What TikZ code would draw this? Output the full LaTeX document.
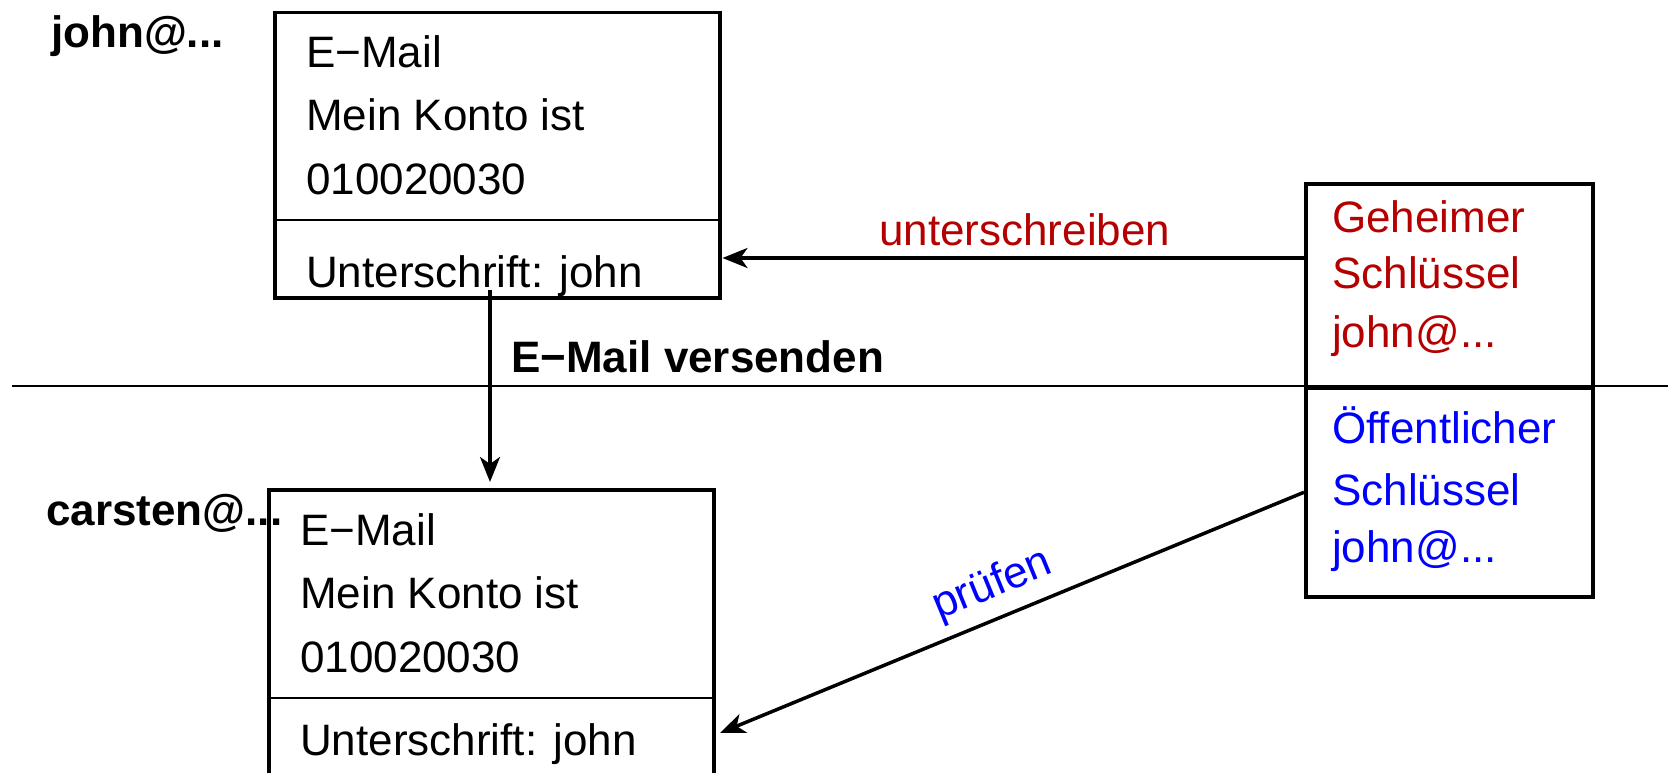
\documentclass[tikz,border=0pt]{standalone}
\usepackage{fontspec}
\setmainfont{Liberation Sans}
\usetikzlibrary{arrows.meta}
\definecolor{sigred}{RGB}{180,0,0}
\definecolor{pubblue}{RGB}{0,0,255}
\begin{document}
\begin{tikzpicture}[x=1pt,y=-1pt,
  box/.style={draw, line width=3.5pt, inner sep=0pt, anchor=north west},
  txt/.style={anchor=base west, inner sep=0pt, font=\fontsize{44}{52}\selectfont},
  lbl/.style={anchor=base west, inner sep=0pt, font=\fontsize{44}{52}\selectfont\bfseries},
  arr/.style={line width=3.5pt, -{Stealth[length=25pt,width=20pt,inset=7pt]}},
  thinline/.style={line width=1.5pt},
  rule/.style={line width=2pt}]
\useasboundingbox (0,0) rectangle (1668,773);
% separating rule
\coordinate (rl) at (12,386);
\coordinate (rr) at (1668,386);
\draw[rule] (rl) -- (rr);
% box of john
\node[box, minimum width=445pt, minimum height=285pt] (b1) at (273,11) {};
\coordinate (d1) at (0,220);
\draw[thinline] (b1.west |- d1) -- (b1.east |- d1);
\node[txt] (b1a) at (306,68) {E−Mail};
\node[txt] (b1b) at (306,131) {Mein Konto ist};
\node[txt] (b1c) at (306,194) {010020030};
\node[txt] (b1d) at (306,287) {Unterschrift: john};
\node[lbl] (john) at (51,48) {john@...};
% box of carsten
\node[box, minimum width=445pt, minimum height=310pt] (b2) at (267,488) {};
\coordinate (d2) at (0,698);
\draw[thinline] (b2.west |- d2) -- (b2.east |- d2);
\node[txt] (b2a) at (300,545) {E−Mail};
\node[txt] (b2b) at (300,608) {Mein Konto ist};
\node[txt] (b2c) at (300,672) {010020030};
\node[txt] (b2d) at (300,755) {Unterschrift: john};
\node[lbl] (carsten) at (46,525) {carsten@...};
% key boxes
\node[box, minimum width=287pt, minimum height=204pt] (sec) at (1304,182) {};
\node[box, minimum width=287pt, minimum height=209pt] (pub) at (1304,386) {};
\node[txt, text=sigred] (s1) at (1332,232) {Geheimer};
\node[txt, text=sigred] (s2) at (1332,288) {Schlüssel};
\node[txt, text=sigred] (s3) at (1332,347) {john@...};
\node[txt, text=pubblue] (p1) at (1332,443) {Öffentlicher};
\node[txt, text=pubblue] (p2) at (1332,505) {Schlüssel};
\node[txt, text=pubblue] (p3) at (1332,562) {john@...};
% send arrow
\coordinate (vs) at (490,290);
\coordinate (ve) at (490,482);
\draw[arr] (vs) -- (ve);
\node[lbl] (send) at (511,372) {E−Mail versenden};
% sign arrow
\coordinate (u) at (0,258);
\draw[arr] (sec.west |- u) -- ([xshift=1pt]b1.east |- u);
\node[txt, text=sigred] (sign) at (879,245) {unterschreiben};
% verify arrow
\coordinate (c2) at (720,733);
\draw[arr] (pub.west) -- (c2);
\node[txt, text=pubblue, rotate=22.3] (check) at (939,620) {prüfen};
\end{tikzpicture}
\end{document}
